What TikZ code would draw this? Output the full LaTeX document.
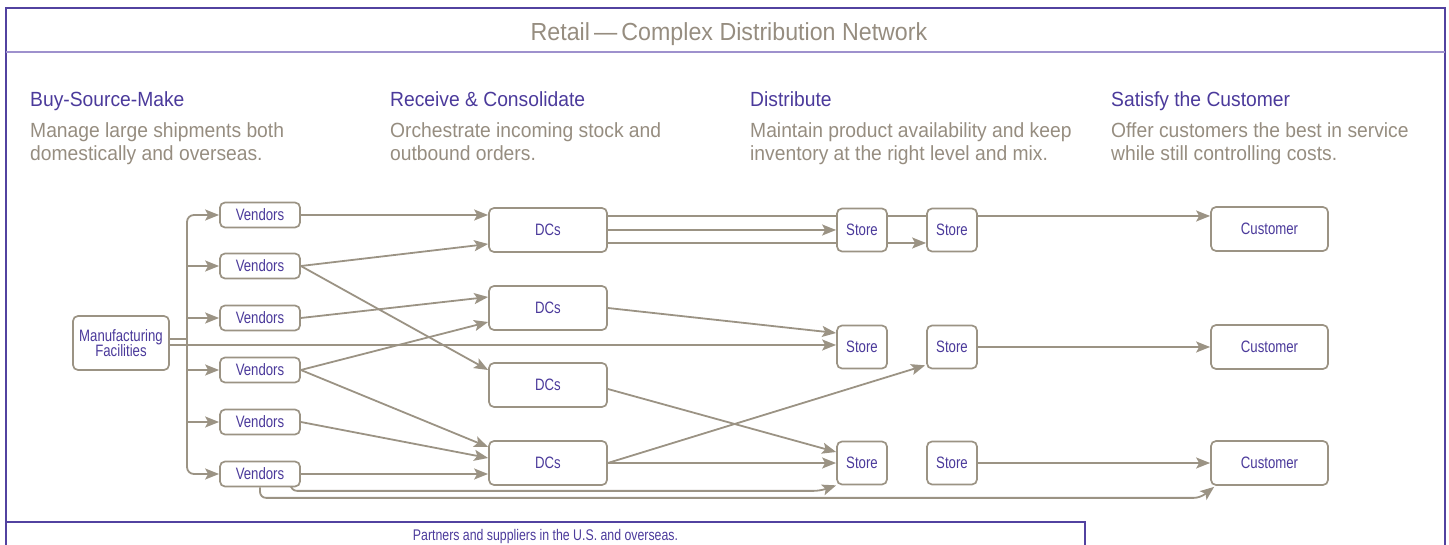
\documentclass[tikz,border=0pt]{standalone}
\usepackage{fontspec}
\setmainfont{Liberation Sans}[FakeStretch=0.94]
\newfontfamily\condfont{Liberation Sans}[FakeStretch=0.8]
\usetikzlibrary{arrows.meta,calc,backgrounds}
\definecolor{purp}{RGB}{75,58,155}
\definecolor{taupe}{RGB}{155,147,132}
\definecolor{greytxt}{RGB}{150,141,128}
\definecolor{framec}{RGB}{82,66,160}
\definecolor{headline}{RGB}{158,145,205}
\tikzset{
 box/.style={draw=taupe, line width=1.7pt, rounded corners=5pt, fill=white, text=purp,
   font=\condfont\fontsize{16.5}{15.5}\selectfont, inner sep=0pt, align=center},
 vend/.style={box, minimum width=80pt, minimum height=25pt},
 dcbox/.style={box, minimum width=118pt, minimum height=44pt},
 storebox/.style={box, minimum width=50pt, minimum height=43pt},
 custbox/.style={box, minimum width=117pt, minimum height=44pt},
 conn/.style={draw=taupe, line width=1.8pt},
 arr/.style={conn, -{Stealth[length=14pt,width=11pt,inset=3pt]}},
 head/.style={text=purp, font=\fontsize{20.5}{22}\selectfont, anchor=base west, inner sep=0pt},
 desc/.style={text=greytxt, font=\fontsize{20.5}{22}\selectfont, anchor=base west, inner sep=0pt},
}
\begin{document}
\begin{tikzpicture}[x=1pt,y=-1pt]
\useasboundingbox (0,0) rectangle (1449,545);
% frame
\draw[framec, line width=1.6pt] (6,546) -- (6,8) -- (1445,8) -- (1445,546);
\draw[headline, line width=1.6pt] (6,52) -- (1445,52);
\draw[framec, line width=1.3pt] (6,522) -- (1085,522) -- (1085,546);
% title
\node[text=greytxt, font=\fontsize{24.7}{26}\selectfont, anchor=base, inner sep=0pt] (title) at (729,40.5) {Retail\,—\,Complex Distribution Network};
% section texts
\node[head] (h1) at (30,107) {Buy-Source-Make};
\node[desc] (d1a) at (30,138) {Manage large shipments both};
\node[desc] (d1b) at (30,160.5) {domestically and overseas.};
\node[head] (h2) at (390,107) {Receive \& Consolidate};
\node[desc] (d2a) at (390,138) {Orchestrate incoming stock and};
\node[desc] (d2b) at (390,160.5) {outbound orders.};
\node[head] (h3) at (750,107) {Distribute};
\node[desc] (d3a) at (750,138) {Maintain product availability and keep};
\node[desc] (d3b) at (750,160.5) {inventory at the right level and mix.};
\node[head] (h4) at (1111,107) {Satisfy the Customer};
\node[desc] (d4a) at (1111,138) {Offer customers the best in service};
\node[desc] (d4b) at (1111,160.5) {while still controlling costs.};
% nodes
\node[box, minimum width=96pt, minimum height=54pt] (mf) at (121,343) {Manufacturing\\Facilities};
\node[vend] (v1) at (260,215) {Vendors};
\node[vend] (v2) at (260,266) {Vendors};
\node[vend] (v3) at (260,318) {Vendors};
\node[vend] (v4) at (260,370) {Vendors};
\node[vend] (v5) at (260,422) {Vendors};
\node[vend] (v6) at (260,474) {Vendors};
\node[dcbox] (dc1) at (548,230) {DCs};
\node[dcbox] (dc2) at (548,308) {DCs};
\node[dcbox] (dc3) at (548,385) {DCs};
\node[dcbox] (dc4) at (548,463) {DCs};
\node[storebox] (s11) at (862,230) {Store};
\node[storebox] (s12) at (952,230) {Store};
\node[storebox] (s21) at (862,347) {Store};
\node[storebox] (s22) at (952,347) {Store};
\node[storebox] (s31) at (862,463) {Store};
\node[storebox] (s32) at (952,463) {Store};
\node[custbox] (c1) at (1269.5,229) {Customer};
\node[custbox] (c2) at (1269.5,347) {Customer};
\node[custbox] (c3) at (1269.5,463) {Customer};
\node[text=purp, font=\condfont\fontsize{15.4}{16}\selectfont, anchor=base, inner sep=0pt] (cap) at (545.5,540) {Partners and suppliers in the U.S. and overseas.};
% connectors
\begin{pgfonlayer}{background}
\coordinate (tr) at (187,339);
\draw[conn] ($(mf.east)+(0,-4)$) -- (tr);
\draw[arr, rounded corners=7pt] (tr) |- (v1.west);
\draw[arr, rounded corners=7pt] (tr) |- (v6.west);
\foreach \v in {v2,v3,v4,v5} \draw[arr] (tr |- \v.west) -- (\v.west);
\draw[arr] ($(mf.east)+(0,2)$) -- ($(s21.west)+(0,-2)$);
% vendors to DCs
\draw[arr] (v1.east) -- (v1.east -| dc1.west);
\draw[arr] (v2.east) -- ($(dc1.west)+(0,14)$);
\draw[arr] (v2.east) -- ($(dc3.west)+(0,-15)$);
\draw[arr] (v3.east) -- ($(dc2.west)+(0,-11)$);
\draw[arr] (v4.east) -- ($(dc2.west)+(0,14)$);
\draw[arr] (v4.east) -- ($(dc4.west)+(0,-16)$);
\draw[arr] (v5.east) -- ($(dc4.west)+(0,-5)$);
\draw[arr] (v6.east) -- (v6.east -| dc4.west);
% vendor bottom bypass lines
\draw[arr, rounded corners=6pt] ($(v6.south east)+(-10,0)$) |- ($(s31.south west)+(-16,5.5)$) -- (s31.south west);
\draw[arr, rounded corners=6pt] (v6.south) |- ($(c3.south west)+(-10,12)$) -- ($(c3.south west)+(4,1)$);
% DCs to stores
\coordinate (d1t) at ($(dc1.east)+(0,-14)$);
\coordinate (d1b) at ($(dc1.east)+(0,13)$);
\draw[arr] (d1t) -- (d1t -| c1.west);
\draw[arr] (dc1.east) -- (dc1.east -| s11.west);
\draw[arr] (d1b) -- (d1b -| s12.west);
\draw[arr] (dc2.east) -- ($(s21.west)+(0,-14)$);
\draw[arr] ($(dc3.east)+(0,4)$) -- ($(s31.west)+(0,-11)$);
\draw[arr] (dc4.east) -- (s31.west);
\draw[arr] (dc4.east) -- ($(s22.south west)+(-1,-4)$);
% stores to customers
\draw[arr] (s22.east) -- (s22.east -| c2.west);
\draw[arr] (s32.east) -- (s32.east -| c3.west);
\end{pgfonlayer}
\end{tikzpicture}
\end{document}
